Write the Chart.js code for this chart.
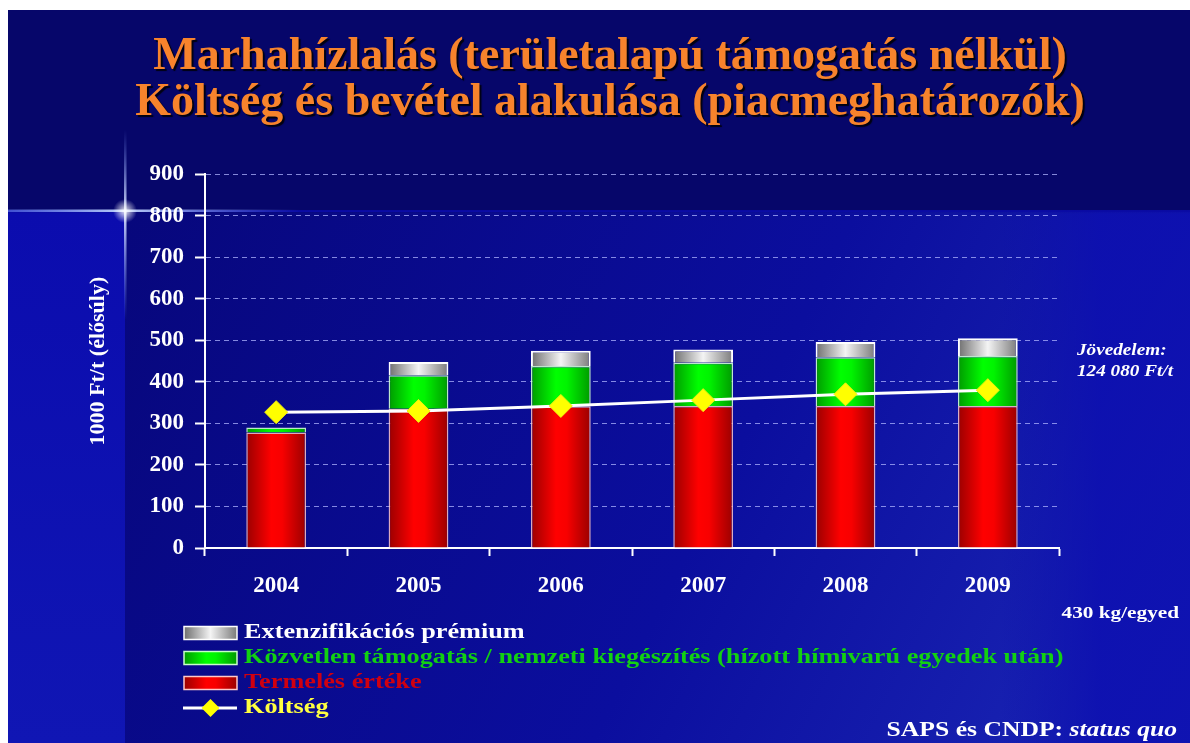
<!DOCTYPE html>
<html>
<head>
<meta charset="utf-8">
<script src="https://cdn.jsdelivr.net/npm/chart.js@4.4.1/dist/chart.umd.min.js"></script>
<style>
html,body{margin:0;padding:0;background:#fff;overflow:hidden}
#wrap{position:relative;width:1190px;height:743px}
canvas{display:block}
</style>
</head>
<body>
<div id="wrap"><canvas id="c" width="1190" height="743"></canvas></div>
<script>
// ---------- data ----------
const years = ['2004', '2005', '2006', '2007', '2008', '2009'];
const termelesErteke = [278, 335, 341, 342, 342, 342];
const kozvetlenTamogatas = [12, 81, 97, 104, 117, 120];
const extenzifikaciosPremium = [0, 32, 37, 32, 37, 43];
const koltseg = [327, 330, 342, 356, 370, 380];
const yMin = 0, yMax = 900, yStep = 100;

const titleLines = [
  'Marhahízlalás (területalapú támogatás nélkül)',
  'Költség és bevétel alakulása (piacmeghatározók)'
];
const yAxisTitle = '1000 Ft/t (élősúly)';
const labelTermeles = 'Termelés értéke';
const labelKozvetlen = 'Közvetlen támogatás / nemzeti kiegészítés (hízott hímivarú egyedek után)';
const labelExtenz = 'Extenzifikációs prémium';
const labelKoltseg = 'Költség';
const noteIncome = ['Jövedelem:', '124 080 Ft/t'];
const noteWeight = '430 kg/egyed';
const noteSourceA = 'SAPS és CNDP: ';
const noteSourceB = 'status quo';

// ---------- styling helpers ----------
const SERIF = '"Liberation Serif", "Times New Roman", serif';
const BAR_PCT = 0.42;

function hGrad(stops, fallback) {
  return (c) => {
    const chart = c.chart;
    const xs = chart.scales && chart.scales.x;
    if (!chart.chartArea || !xs || c.dataIndex === undefined) return fallback;
    const cx = xs.getPixelForValue(c.dataIndex);
    const w = (xs.width / years.length) * BAR_PCT;
    const g = chart.ctx.createLinearGradient(cx - w / 2, 0, cx + w / 2, 0);
    stops.forEach(s => g.addColorStop(s[0], s[1]));
    return g;
  };
}
const redStops = [[0, '#9a0000'], [0.42, '#ff0000'], [0.6, '#f80000'], [1, '#9a0000']];
const greenStops = [[0, '#009a00'], [0.42, '#00ff00'], [0.6, '#00f400'], [1, '#009a00']];
const whiteStops = [[0, '#6e6e6e'], [0.5, '#f4f4f4'], [1, '#7a7a7a']];

function drawText(ctx, text, x, y, o) {
  ctx.save();
  ctx.font = `${o.style || 'normal'} bold ${o.size}px ${SERIF}`;
  ctx.fillStyle = o.color;
  ctx.textBaseline = 'middle';
  ctx.textAlign = 'left';
  const sx = o.sx || 1.25;
  const w = ctx.measureText(text).width * sx;
  const x0 = o.align === 'right' ? x - w : (o.align === 'center' ? x - w / 2 : x);
  ctx.translate(x0, y);
  ctx.scale(sx, 1);
  ctx.fillText(text, 0, 0);
  ctx.restore();
  return w;
}

// ---------- background + title shadow ----------
const backgroundPlugin = {
  id: 'slideBackground',
  beforeDraw(chart) {
    const ctx = chart.ctx;
    const W = chart.width, H = chart.height;
    ctx.save();
    ctx.fillStyle = '#ffffff';
    ctx.fillRect(0, 0, W, H);
    // lower bright area
    let g = ctx.createLinearGradient(0, 212, 0, H);
    g.addColorStop(0, '#0b0cae');
    g.addColorStop(1, '#1016b4');
    ctx.fillStyle = g;
    ctx.fillRect(8, 10, W - 8, H - 10);
    // panel behind the chart
    g = ctx.createLinearGradient(125, 212, W, H);
    g.addColorStop(0, '#07077c');
    g.addColorStop(0.55, '#0b0e9e');
    g.addColorStop(1, '#1c28b8');
    ctx.fillStyle = g;
    ctx.fillRect(125, 212, W - 125, H - 212);
    // soften right side
    g = ctx.createLinearGradient(1000, 0, 1100, 0);
    g.addColorStop(0, 'rgba(12,14,170,0)');
    g.addColorStop(1, 'rgba(12,14,176,0.8)');
    ctx.fillStyle = g;
    ctx.fillRect(1000, 212, 190, H - 212);
    // top dark band
    g = ctx.createLinearGradient(0, 195, 0, 214);
    ctx.fillStyle = '#06066a';
    ctx.fillRect(8, 10, W - 8, 200);
    g.addColorStop(0, 'rgba(6,6,106,1)');
    g.addColorStop(1, 'rgba(6,6,106,0)');
    ctx.fillStyle = g;
    ctx.fillRect(8, 195, W - 8, 19);
    // flare lines
    g = ctx.createLinearGradient(8, 0, 300, 0);
    g.addColorStop(0, 'rgba(120,150,255,0.5)');
    g.addColorStop(0.4, 'rgba(200,220,255,0.95)');
    g.addColorStop(1, 'rgba(120,150,255,0)');
    ctx.fillStyle = g;
    ctx.fillRect(8, 209.5, 292, 2.5);
    g = ctx.createLinearGradient(0, 130, 0, 320);
    g.addColorStop(0, 'rgba(120,150,255,0)');
    g.addColorStop(0.43, 'rgba(220,230,255,0.95)');
    g.addColorStop(1, 'rgba(120,150,255,0)');
    ctx.fillStyle = g;
    ctx.fillRect(124, 130, 2.5, 190);
    const r = ctx.createRadialGradient(125, 211, 0, 125, 211, 12);
    r.addColorStop(0, 'rgba(255,255,255,0.9)');
    r.addColorStop(1, 'rgba(255,255,255,0)');
    ctx.fillStyle = r;
    ctx.fillRect(110, 196, 30, 30);
    ctx.restore();

    // give the title block a dark drop shadow
    const tb = chart.titleBlock;
    if (tb && !tb._shadowPatched) {
      const orig = tb.draw;
      tb.draw = function (...args) {
        const c = this.ctx || chart.ctx;
        c.save();
        c.shadowColor = 'rgba(0,0,0,0.85)';
        c.shadowOffsetX = 2;
        c.shadowOffsetY = 2;
        c.shadowBlur = 1;
        orig.apply(this, args);
        c.restore();
      };
      tb._shadowPatched = true;
    }
  }
};

// ---------- custom legend + notes ----------
const legendPlugin = {
  id: 'slideLegend',
  afterDraw(chart) {
    const ctx = chart.ctx;
    const ds = chart.data.datasets;
    const bx = 184, bw = 53, bh = 13, tx = 244;
    const rows = [
      { d: ds[3], stops: whiteStops, border: '#ffffff', color: '#ffffff', y: 633 },
      { d: ds[2], stops: greenStops, border: '#c8ffc8', color: '#12d012', y: 658 },
      { d: ds[1], stops: redStops, border: '#ffc8c8', color: '#d00010', y: 683 }
    ];
    rows.forEach(r => {
      const g = ctx.createLinearGradient(bx, 0, bx + bw, 0);
      r.stops.forEach(s => g.addColorStop(s[0], s[1]));
      ctx.save();
      ctx.fillStyle = g;
      ctx.fillRect(bx, r.y - bh / 2, bw, bh);
      ctx.strokeStyle = r.border;
      ctx.lineWidth = 1.5;
      ctx.strokeRect(bx, r.y - bh / 2, bw, bh);
      ctx.restore();
      drawText(ctx, r.d.label, tx, r.y, { size: 21, color: r.color, sx: 1.25 });
    });
    // line item
    const ly = 708;
    ctx.save();
    ctx.strokeStyle = '#ffffff';
    ctx.lineWidth = 3;
    ctx.beginPath();
    ctx.moveTo(bx - 1, ly);
    ctx.lineTo(bx + bw, ly);
    ctx.stroke();
    const cx = bx + bw / 2, rr = 9;
    ctx.fillStyle = '#ffff00';
    ctx.beginPath();
    ctx.moveTo(cx - rr, ly); ctx.lineTo(cx, ly - rr); ctx.lineTo(cx + rr, ly); ctx.lineTo(cx, ly + rr);
    ctx.closePath();
    ctx.fill();
    ctx.restore();
    drawText(ctx, ds[0].label, tx, ly, { size: 21, color: '#ffff40', sx: 1.25 });

    // notes
    drawText(ctx, noteIncome[0], 1077, 351, { size: 16, style: 'italic', color: '#ffffff', sx: 1.2 });
    drawText(ctx, noteIncome[1], 1077, 372, { size: 16, style: 'italic', color: '#ffffff', sx: 1.2 });
    drawText(ctx, noteWeight, 1179, 614, { size: 17, color: '#ffffff', sx: 1.25, align: 'right' });
    ctx.save();
    ctx.font = `italic bold 21px ${SERIF}`;
    const wB = ctx.measureText(noteSourceB).width * 1.22;
    ctx.restore();
    drawText(ctx, noteSourceB, 1177, 731, { size: 21, style: 'italic', color: '#ffffff', sx: 1.22, align: 'right' });
    drawText(ctx, noteSourceA, 1177 - wB, 731, { size: 21, color: '#ffffff', sx: 1.22, align: 'right' });
  }
};

// ---------- chart ----------
const tickFont = { family: SERIF, size: 23, weight: 'bold' };

new Chart(document.getElementById('c'), {
  data: {
    labels: years,
    datasets: [
      {
        type: 'line',
        label: labelKoltseg,
        data: koltseg,
        order: 0,
        stack: 'cost',
        borderColor: '#ffffff',
        borderWidth: 3,
        tension: 0,
        pointStyle: 'rectRot',
        pointRadius: 11.5,
        pointHoverRadius: 11.5,
        pointBackgroundColor: '#ffff00',
        pointBorderColor: '#eeee10',
        pointBorderWidth: 1
      },
      {
        type: 'bar',
        label: labelTermeles,
        data: termelesErteke,
        order: 1,
        stack: 'rev',
        backgroundColor: hGrad(redStops, '#ff0000'),
        borderColor: 'rgba(255,200,200,0.85)',
        borderWidth: 1.5,
        barPercentage: BAR_PCT,
        categoryPercentage: 1
      },
      {
        type: 'bar',
        label: labelKozvetlen,
        data: kozvetlenTamogatas,
        order: 1,
        stack: 'rev',
        backgroundColor: hGrad(greenStops, '#00ff00'),
        borderColor: 'rgba(210,255,210,0.9)',
        borderWidth: 1.5,
        barPercentage: BAR_PCT,
        categoryPercentage: 1
      },
      {
        type: 'bar',
        label: labelExtenz,
        data: extenzifikaciosPremium,
        order: 1,
        stack: 'rev',
        backgroundColor: hGrad(whiteStops, '#cccccc'),
        borderColor: '#ffffff',
        borderWidth: 2,
        barPercentage: BAR_PCT,
        categoryPercentage: 1
      }
    ]
  },
  options: {
    responsive: false,
    animation: false,
    devicePixelRatio: 1,
    events: [],
    layout: { padding: { left: 30, right: 0, top: 0, bottom: 142 } },
    plugins: {
      legend: { display: false },
      tooltip: { enabled: false },
      title: {
        display: true,
        text: titleLines,
        color: '#f7832c',
        font: { family: SERIF, size: 46, weight: 'bold', lineHeight: 0.98 },
        padding: { top: 35, bottom: 49 }
      }
    },
    scales: {
      x: {
        type: 'category',
        offset: true,
        stacked: true,
        grid: {
          display: true,
          offset: true,
          drawOnChartArea: false,
          drawTicks: true,
          tickLength: 8,
          tickColor: '#ffffff',
          tickWidth: 2,
          color: '#ffffff'
        },
        border: { display: true, color: '#ffffff', width: 2 },
        ticks: { color: '#ffffff', font: tickFont, padding: 16, maxRotation: 0 },
        afterFit(scale) { scale.height = 53; }
      },
      y: {
        stacked: true,
        min: yMin,
        max: yMax,
        ticks: { stepSize: yStep, color: '#ffffff', font: tickFont, padding: 11 },
        grid: {
          color: 'rgba(175,180,255,0.75)',
          lineWidth: 1,
          drawTicks: true,
          tickLength: 10,
          tickColor: '#ffffff',
          tickWidth: 2,
          tickBorderDash: []
        },
        border: { display: true, color: '#ffffff', width: 2, dash: [5, 4] },
        title: {
          display: true,
          text: yAxisTitle,
          color: '#ffffff',
          font: { family: SERIF, size: 22, weight: 'bold' },
          padding: { top: 55, bottom: 10 }
        },
        afterFit(scale) { scale.width = 175; }
      },
      // empty right-hand gutter that holds the side notes
      yNotes: {
        type: 'linear',
        position: 'right',
        display: true,
        min: yMin,
        max: yMax,
        grid: { display: false, drawTicks: false },
        border: { display: false },
        ticks: { display: false },
        afterFit(scale) { scale.width = 131; }
      }
    }
  },
  plugins: [backgroundPlugin, legendPlugin]
});
</script>
</body>
</html>
